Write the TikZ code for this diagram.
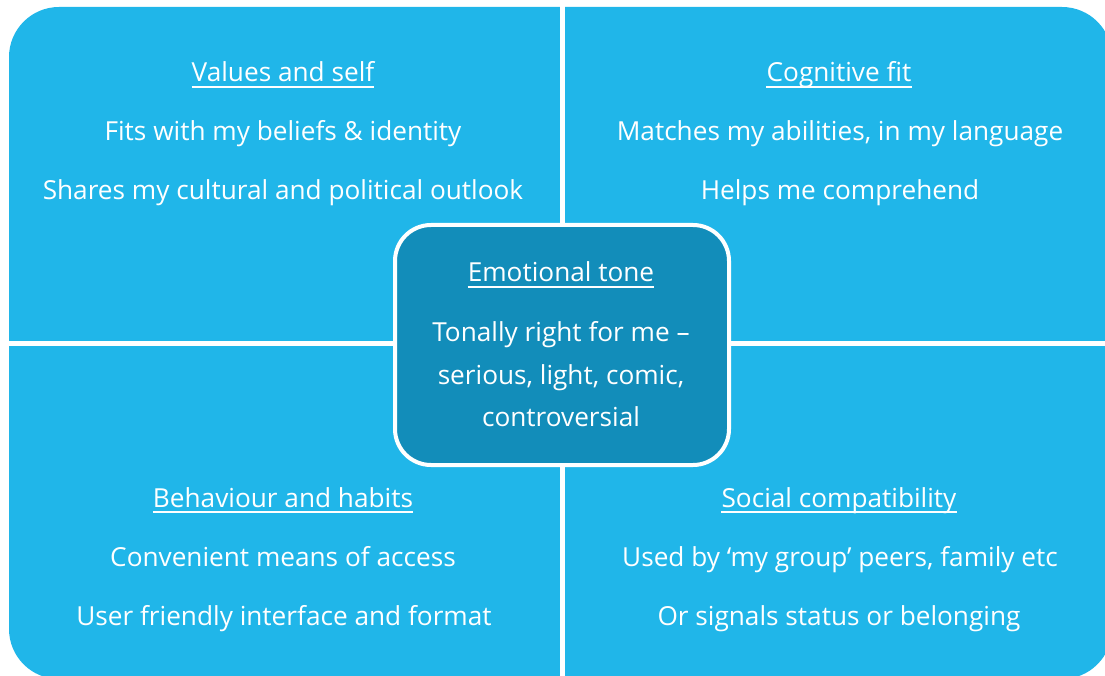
\documentclass[tikz,border=0pt]{standalone}
\usepackage{fontspec}
\setmainfont{Open Sans}
\definecolor{lightq}{HTML}{20B6E9}
\definecolor{darkq}{HTML}{128DBA}
\begin{document}
\begin{tikzpicture}[x=1pt,y=-1pt,
  txt/.style={text=white, anchor=base, inner sep=0pt, font=\fontsize{26.2}{30}\selectfont},
  quad/.style={fill=lightq, rounded corners=50pt},
  gap/.style={draw=white, line width=5pt},
  uline/.style={draw=white, line width=1.5pt},
  centerbox/.style={fill=darkq, draw=white, line width=4pt, rounded corners=36pt}]
\useasboundingbox (0,0) rectangle (1105,676);
\fill[quad] (9,7) rectangle (1112,679);
\coordinate (vt) at (562,0);
\coordinate (vb) at (562,676);
\coordinate (hl) at (0,343);
\coordinate (hr) at (1105,343);
\draw[gap] (vt) -- (vb);
\draw[gap] (hl) -- (hr);
\draw[centerbox] (395,225) rectangle (729,465);
% top left
\node[txt] (tlh) at (283,82) {Values and self};
\node[txt] (tl1) at (283,141) {Fits with my beliefs \& identity};
\node[txt] (tl2) at (283,200) {Shares my cultural and political outlook};
% top right
\node[txt] (trh) at (839,82) {Cognitive fit};
\node[txt] (tr1) at (840,141) {Matches my abilities, in my language};
\node[txt] (tr2) at (840,200) {Helps me comprehend};
% bottom left
\node[txt] (blh) at (283,507) {Behaviour and habits};
\node[txt] (bl1) at (283,566) {Convenient means of access};
\node[txt] (bl2) at (284,625) {User friendly interface and format};
% bottom right
\node[txt] (brh) at (839,507) {Social compatibility};
\node[txt] (br1) at (840,566) {Used by ‘my group’ peers, family etc};
\node[txt] (br2) at (839,625) {Or signals status or belonging};
% center
\node[txt] (ch) at (561,282) {Emotional tone};
\node[txt] (c1) at (561,341) {Tonally right for me –};
\node[txt] (c2) at (561,384) {serious, light, comic,};
\node[txt] (c3) at (561,426) {controversial};
% underlines
\foreach \n in {tlh,trh,blh,brh,ch}
  \draw[uline] ([yshift=-5pt]\n.base west) -- ([yshift=-5pt]\n.base east);
\end{tikzpicture}
\end{document}
